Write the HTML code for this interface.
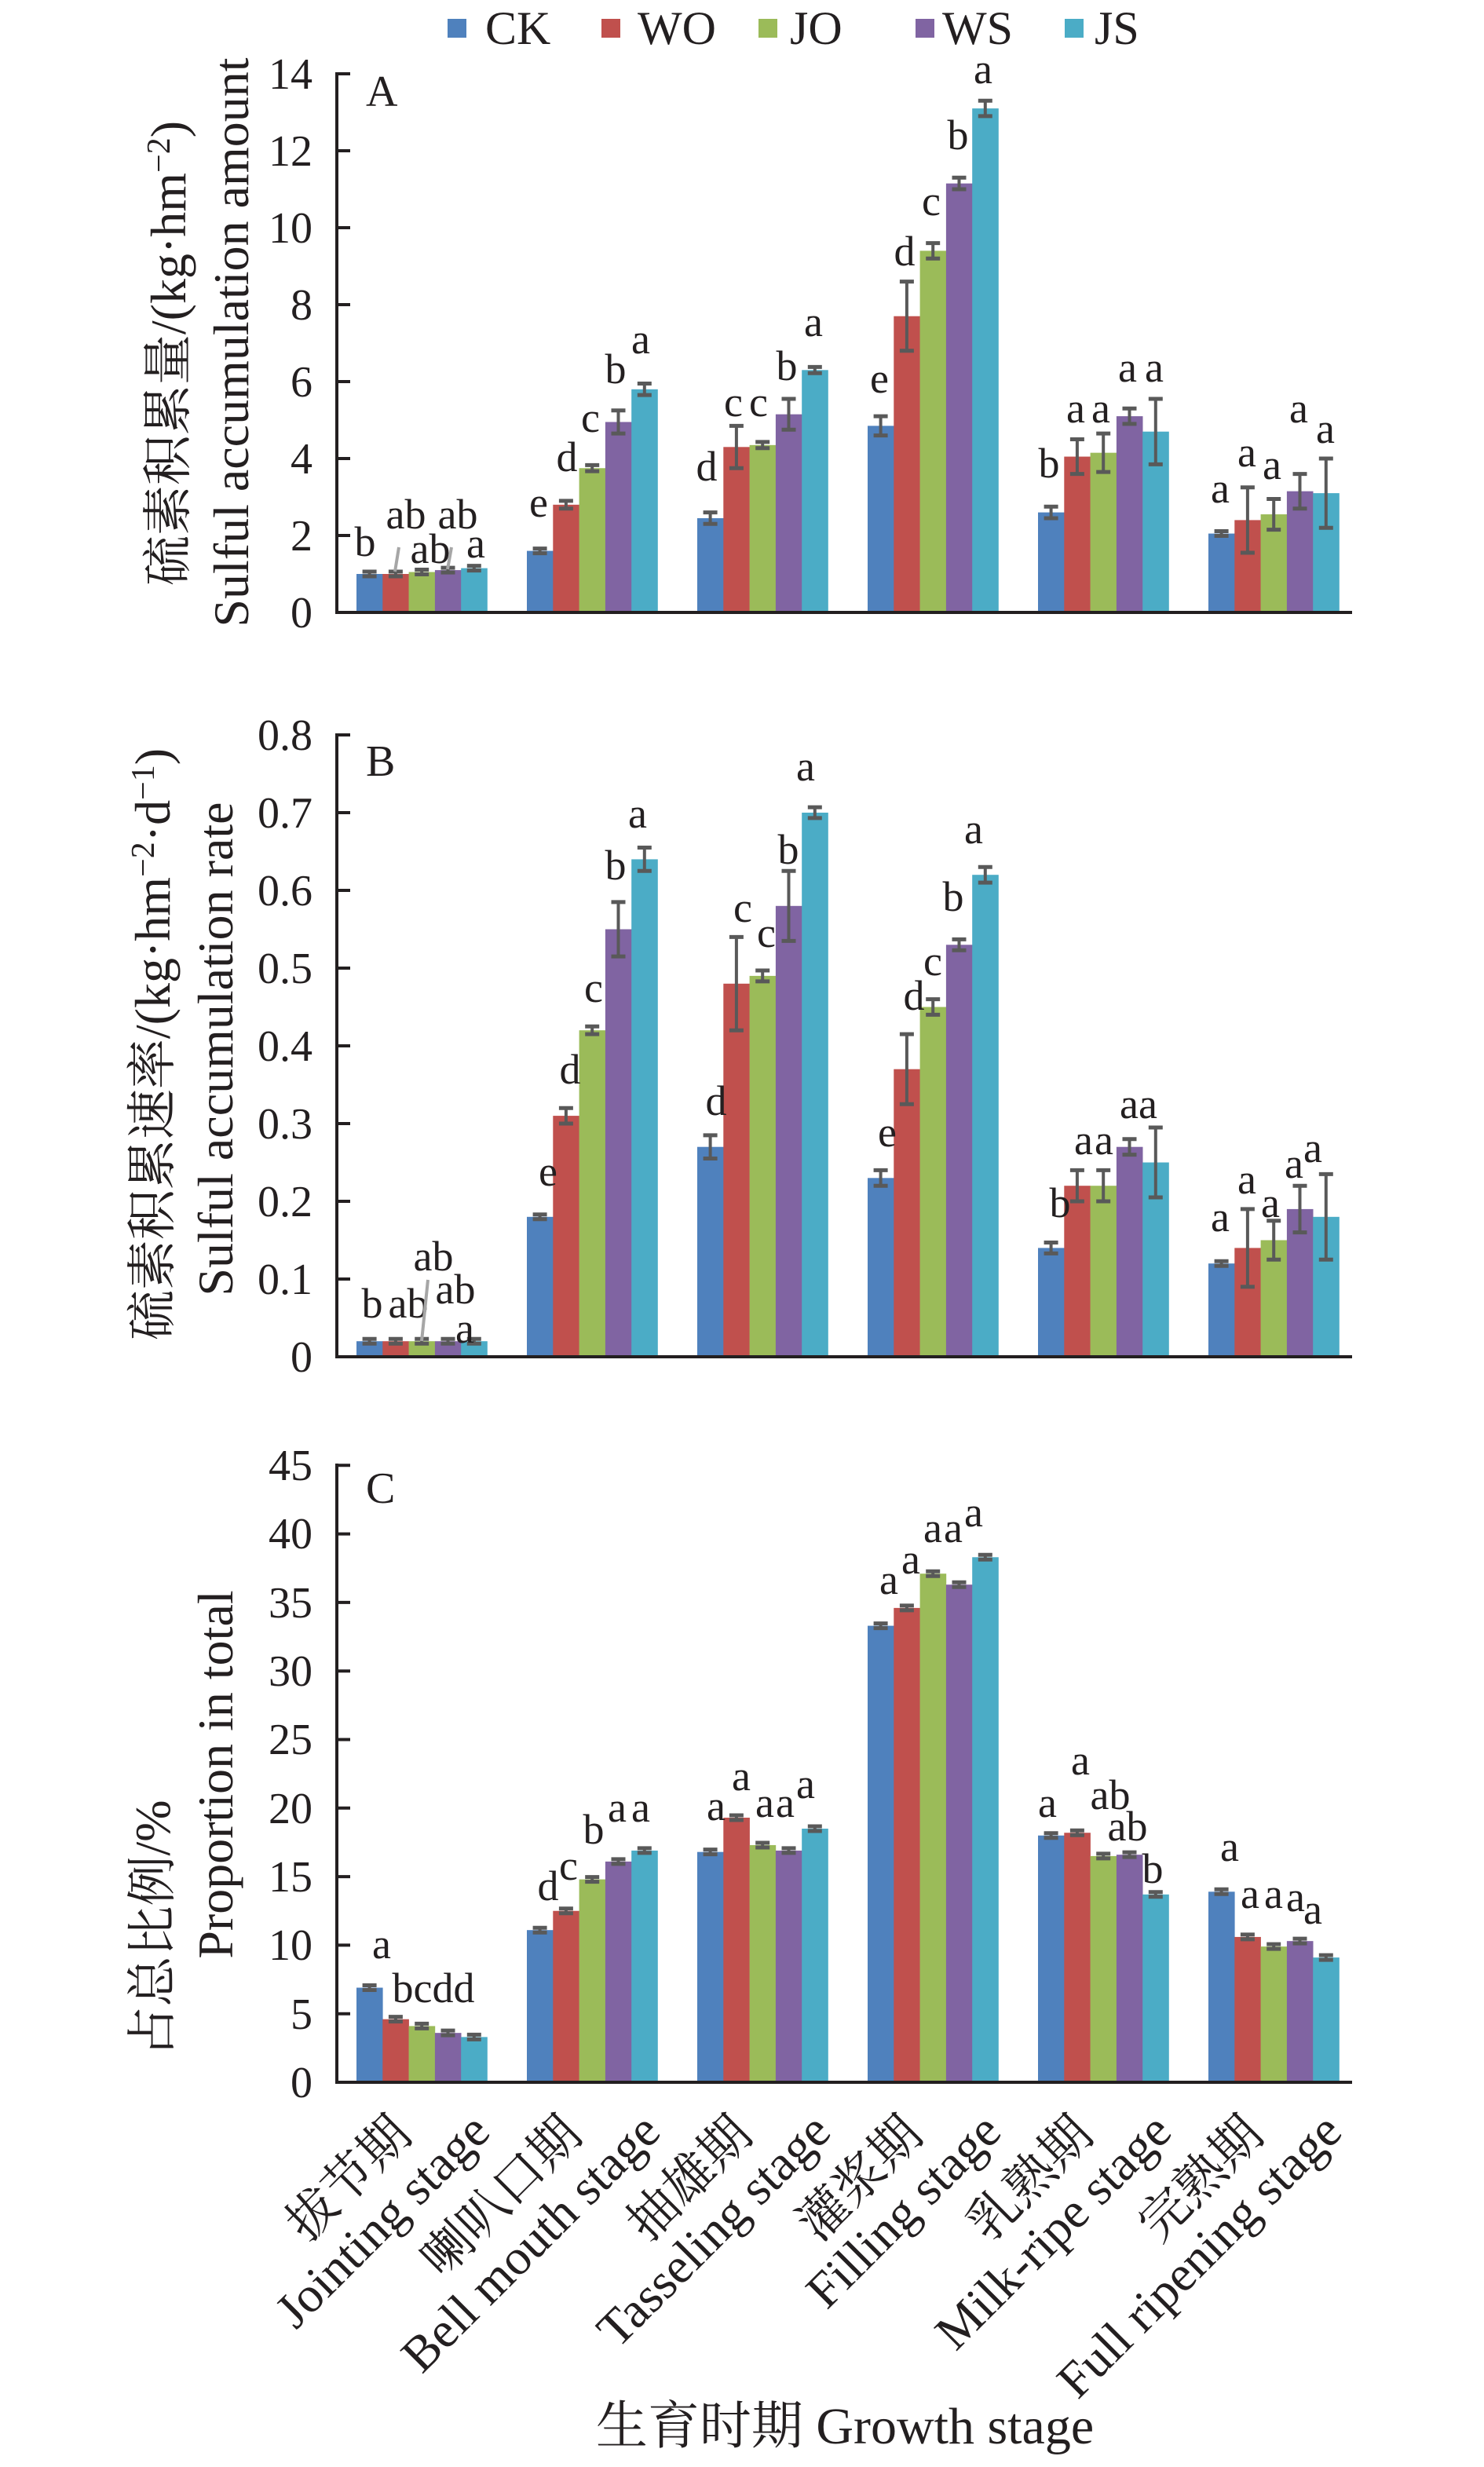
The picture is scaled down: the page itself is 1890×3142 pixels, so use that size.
<!DOCTYPE html>
<html><head><meta charset="utf-8"><style>
html,body{margin:0;padding:0;background:#fff;}
svg{display:block;}
text{font-family:"Liberation Serif","Noto Serif CJK SC","Noto Sans CJK SC",serif;fill:#231f20;}
</style></head><body>
<svg id="s" width="1890" height="3142" viewBox="0 0 1890 3142" xmlns="http://www.w3.org/2000/svg">
<g id="bars"></g>
<g stroke="#231f20" stroke-width="4" fill="none" id="axes"></g>
<!-- legend -->
<rect x="570" y="24" width="24" height="24" fill="#4f81bd"/><text x="618" y="56" font-size="60">CK</text>
<rect x="766" y="24" width="24" height="24" fill="#c0504d"/><text x="812" y="56" font-size="60">WO</text>
<rect x="966" y="24" width="24" height="24" fill="#9bbb59"/><text x="1006" y="56" font-size="60">JO</text>
<rect x="1166" y="24" width="24" height="24" fill="#8064a2"/><text x="1200" y="56" font-size="60">WS</text>
<rect x="1356" y="24" width="24" height="24" fill="#4bacc6"/><text x="1394" y="56" font-size="60">JS</text>
<!-- panel letters -->
<text x="466" y="135" font-size="56">A</text>
<text x="466" y="988" font-size="56">B</text>
<text x="466" y="1914" font-size="56">C</text>
<g font-size="56" text-anchor="end">
<text x="398" y="799">0</text><text x="398" y="701">2</text><text x="398" y="603">4</text><text x="398" y="505">6</text><text x="398" y="407">8</text><text x="398" y="309">10</text><text x="398" y="211">12</text><text x="398" y="113">14</text>
<text x="398" y="1747">0</text><text x="398" y="1648">0.1</text><text x="398" y="1549">0.2</text><text x="398" y="1450">0.3</text><text x="398" y="1351">0.4</text><text x="398" y="1252">0.5</text><text x="398" y="1153">0.6</text><text x="398" y="1054">0.7</text><text x="398" y="955">0.8</text>
<text x="398" y="2671">0</text><text x="398" y="2584">5</text><text x="398" y="2496">10</text><text x="398" y="2409">15</text><text x="398" y="2322">20</text><text x="398" y="2234">25</text><text x="398" y="2147">30</text><text x="398" y="2060">35</text><text x="398" y="1972">40</text><text x="398" y="1885">45</text>
</g>
<!-- y axis titles -->
<g font-size="64" text-anchor="middle">
<text transform="translate(236,450) rotate(-90)">硫素积累量/(kg·hm<tspan dy="-20" font-size="42">−2</tspan><tspan dy="20">)</tspan></text>
<text transform="translate(316,436) rotate(-90)">Sulful accumulation amount</text>
<text transform="translate(216,1330) rotate(-90)">硫素积累速率/(kg·hm<tspan dy="-20" font-size="42">−2</tspan><tspan dy="20">·d</tspan><tspan dy="-20" font-size="42">−1</tspan><tspan dy="20">)</tspan></text>
<text transform="translate(296,1336) rotate(-90)">Sulful accumulation rate</text>
<text transform="translate(216,2456) rotate(-90)">占总比例/%</text>
<text transform="translate(296,2260) rotate(-90)">Proportion in total</text>
</g>
<g font-size="54" text-anchor="middle">
<text x="465" y="708">b</text><text x="517" y="673">ab</text><text x="548" y="717">ab</text><text x="583" y="673">ab</text><text x="606" y="710">a</text>
<text x="686" y="658">e</text><text x="722" y="600">d</text><text x="752" y="550">c</text><text x="784" y="488">b</text><text x="816" y="450">a</text>
<text x="900" y="612">d</text><text x="934" y="530">c</text><text x="966" y="530">c</text><text x="1002" y="484">b</text><text x="1036" y="428">a</text>
<text x="1120" y="500">e</text><text x="1152" y="338">d</text><text x="1186" y="274">c</text><text x="1220" y="190">b</text><text x="1252" y="106">a</text>
<text x="1336" y="608">b</text><text x="1370" y="538">a</text><text x="1402" y="538">a</text><text x="1436" y="486">a</text><text x="1470" y="486">a</text>
<text x="1554" y="640">a</text><text x="1588" y="594">a</text><text x="1620" y="610">a</text><text x="1654" y="538">a</text><text x="1688" y="564">a</text>
<text x="474" y="1678">b</text><text x="520" y="1678">ab</text><text x="552" y="1618">ab</text><text x="580" y="1660">ab</text><text x="592" y="1710">a</text>
<text x="698" y="1510">e</text><text x="726" y="1380">d</text><text x="756" y="1276">c</text><text x="784" y="1120">b</text><text x="812" y="1054">a</text>
<text x="912" y="1420">d</text><text x="946" y="1174">c</text><text x="976" y="1206">c</text><text x="1004" y="1100">b</text><text x="1026" y="994">a</text>
<text x="1130" y="1460">e</text><text x="1164" y="1286">d</text><text x="1188" y="1242">c</text><text x="1214" y="1160">b</text><text x="1240" y="1074">a</text>
<text x="1350" y="1550">b</text><text x="1380" y="1470">a</text><text x="1406" y="1470">a</text><text x="1438" y="1424">a</text><text x="1462" y="1424">a</text>
<text x="1554" y="1568">a</text><text x="1588" y="1520">a</text><text x="1618" y="1550">a</text><text x="1648" y="1500">a</text><text x="1672" y="1480">a</text>
<text x="486" y="2494">a</text><text x="552" y="2550">bcdd</text>
<text x="698" y="2420">d</text><text x="724" y="2394">c</text><text x="756" y="2348">b</text><text x="786" y="2320">a</text><text x="816" y="2320">a</text>
<text x="912" y="2318">a</text><text x="944" y="2280">a</text><text x="974" y="2314">a</text><text x="1000" y="2314">a</text><text x="1026" y="2290">a</text>
<text x="1132" y="2030">a</text><text x="1160" y="2004">a</text><text x="1188" y="1964">a</text><text x="1214" y="1964">a</text><text x="1240" y="1944">a</text>
<text x="1334" y="2314">a</text><text x="1376" y="2260">a</text><text x="1414" y="2304">ab</text><text x="1436" y="2344">ab</text><text x="1468" y="2398">b</text>
<text x="1566" y="2370">a</text><text x="1592" y="2430">a</text><text x="1622" y="2430">a</text><text x="1650" y="2434">a</text><text x="1672" y="2450">a</text>
</g>
<g stroke="#a6a6a6" stroke-width="4">
<line x1="503" y1="728" x2="508" y2="697"/><line x1="570" y1="725" x2="575" y2="697"/>
<line x1="537" y1="1708" x2="545" y2="1630"/>
</g>
<!-- x labels -->
<g font-size="64" text-anchor="end">
<text transform="translate(527,2722) rotate(-45)">拔节期</text>
<text transform="translate(627,2718) rotate(-45)">Jointing stage</text>
<text transform="translate(744,2722) rotate(-45)">喇叭口期</text>
<text transform="translate(844,2718) rotate(-45)">Bell mouth stage</text>
<text transform="translate(961,2722) rotate(-45)">抽雄期</text>
<text transform="translate(1061,2718) rotate(-45)">Tasseling stage</text>
<text transform="translate(1178,2722) rotate(-45)">灌浆期</text>
<text transform="translate(1278,2718) rotate(-45)">Filling stage</text>
<text transform="translate(1395,2722) rotate(-45)">乳熟期</text>
<text transform="translate(1495,2718) rotate(-45)">Milk-ripe stage</text>
<text transform="translate(1612,2722) rotate(-45)">完熟期</text>
<text transform="translate(1712,2718) rotate(-45)">Full ripening stage</text>
</g>
<text x="1076" y="3112" font-size="66" text-anchor="middle">生育时期 Growth stage</text>
</svg>
<script>
(function(){
var NS="http://www.w3.org/2000/svg";
var cols=["#4f81bd","#c0504d","#9bbb59","#8064a2","#4bacc6"];
var P=[
 {y0:780,s:49,top:94,tk:[0,2,4,6,8,10,12,14],
  v:[[1,1,1.05,1.1,1.15],[1.6,2.8,3.75,4.95,5.8],[2.45,4.3,4.35,5.15,6.3],[4.85,7.7,9.4,11.15,13.1],[2.6,4.05,4.15,5.1,4.7],[2.05,2.4,2.55,3.15,3.1]],
  e:[[.05,.05,.05,.05,.05],[.05,.1,.08,.3,.15],[.15,.55,.08,.4,.08],[.25,.9,.2,.15,.2],[.15,.45,.5,.2,.85],[.05,.85,.4,.45,.9]]},
 {y0:1728,s:990,top:936,tk:[0,.1,.2,.3,.4,.5,.6,.7,.8],
  v:[[.02,.02,.02,.02,.02],[.18,.31,.42,.55,.64],[.27,.48,.49,.58,.70],[.23,.37,.45,.53,.62],[.14,.22,.22,.27,.25],[.12,.14,.15,.19,.18]],
  e:[[.002,.002,.002,.002,.002],[.003,.01,.005,.035,.015],[.015,.06,.007,.045,.007],[.01,.045,.01,.007,.01],[.007,.02,.02,.01,.045],[.002,.05,.025,.03,.055]]},
 {y0:2652,s:17.46,top:1866,tk:[0,5,10,15,20,25,30,35,40,45],
  v:[[6.9,4.6,4.1,3.6,3.3],[11.1,12.5,14.8,16.1,16.9],[16.8,19.3,17.3,16.9,18.5],[33.3,34.6,37.1,36.3,38.3],[18.0,18.2,16.5,16.6,13.7],[13.9,10.6,9.9,10.3,9.1]],
  e:[[.1,.1,.1,.1,.1],[.1,.1,.1,.1,.1],[.1,.1,.1,.1,.1],[.1,.1,.1,.1,.1],[.1,.1,.1,.1,.1],[.1,.1,.1,.1,.1]]}
];
var gb=document.getElementById("bars"),ga=document.getElementById("axes");
function el(p,n,a){var e=document.createElementNS(NS,n);for(var k in a)e.setAttribute(k,a[k]);p.appendChild(e);return e;}
P.forEach(function(p){
 for(var g=0;g<6;g++)for(var k=0;k<5;k++){
  var x=454+217*g+33.3*k,v=p.v[g][k],y=p.y0-p.s*v;
  el(gb,"rect",{x:x,y:y,width:33.6,height:p.y0-y,fill:cols[k]});
  var cx=x+16.6,er=p.e[g][k]*p.s,t=Math.min(y-er,y-3),b=Math.max(y+er,y+3);
  el(gb,"line",{x1:cx,x2:cx,y1:t,y2:b,stroke:"#595959","stroke-width":4});
  el(gb,"line",{x1:cx-9,x2:cx+9,y1:t,y2:t,stroke:"#595959","stroke-width":5});
  el(gb,"line",{x1:cx-9,x2:cx+9,y1:b,y2:b,stroke:"#595959","stroke-width":5});
 }
 el(ga,"line",{x1:429,x2:429,y1:p.top-2,y2:p.y0+2});
 el(ga,"line",{x1:427,x2:1722,y1:p.y0,y2:p.y0});
 p.tk.forEach(function(t){var y=p.y0-p.s*t;el(ga,"line",{x1:429,x2:446,y1:y,y2:y});});
});
})();
</script>
</body></html>
